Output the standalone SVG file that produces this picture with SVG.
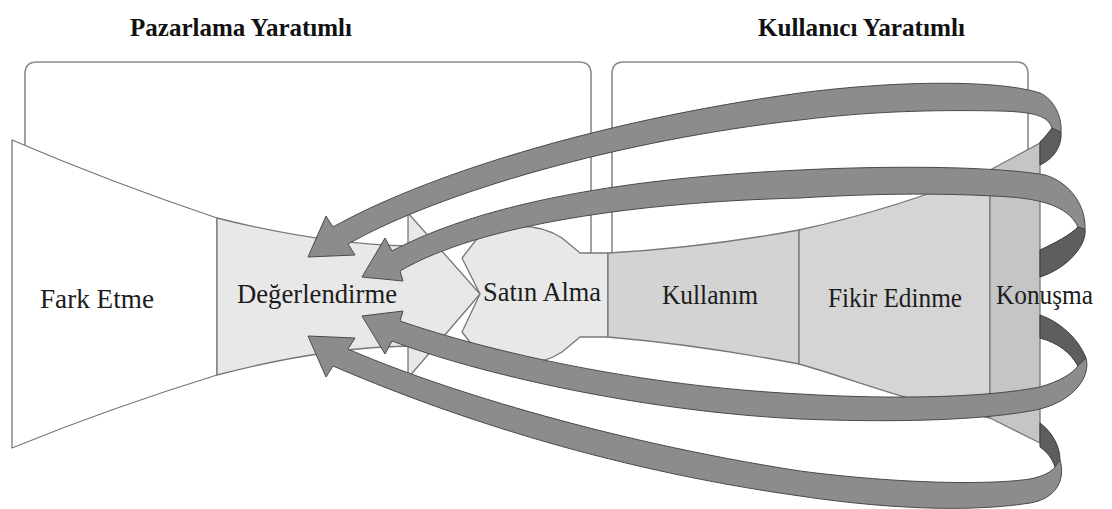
<svg xmlns="http://www.w3.org/2000/svg" width="1112" height="509" viewBox="0 0 1112 509">
<style>
.box{fill:none;stroke:#8a8a8a;stroke-width:1.6}
.reg{stroke:#777;stroke-width:1.3;stroke-linejoin:round}
.lbl{font-family:"Liberation Serif","Times New Roman",serif;font-size:27px;fill:#1c1c1c}
.ttl{font-family:"Liberation Serif","Times New Roman",serif;font-size:26px;font-weight:bold;fill:#111}
.band{fill:#8c8c8c;stroke:#4a4a4a;stroke-width:1;stroke-linejoin:round}
.back{fill:#5e5e5e;stroke:#3a3a3a;stroke-width:1;stroke-linejoin:round}
</style>
<rect width="1112" height="509" fill="#fff"/>
<g id="titles">
<text class="ttl" x="130" y="36" textLength="222" lengthAdjust="spacingAndGlyphs">Pazarlama Yaratımlı</text>
<text class="ttl" x="758" y="36" textLength="207" lengthAdjust="spacingAndGlyphs">Kullanıcı Yaratımlı</text>
</g>
<g id="frames">
<path class="box" d="M25,145 L25,74 Q25,62 37,62 L579,62 Q591,62 591,74 L591,253"/>
<path class="box" d="M612,253 L612,74 Q612,62 624,62 L1016,62 Q1028,62 1028,74 L1028,150"/>
</g>
<g id="fark-etme">
<path class="reg" fill="#ffffff" d="M12,140 Q110,182 217,218 L217,375 Q110,408 12,448 Z" stroke-width="2"/>
<text class="lbl" x="40" y="308" textLength="114" lengthAdjust="spacingAndGlyphs">Fark Etme</text>
</g>
<g id="degerlendirme">
<path class="reg" fill="#e8e8e8" d="M217,218 Q320,244 408,246 L408,213 L480,294 L408,378 L408,346 Q320,348 217,375 Z"/>
</g>
<g id="satin-alma">
<path class="reg" fill="#e8e8e8" d="M480,294 L462,258 L476,240 C498,222 538,222 562,238 L580,253 L608,253 L608,337 L580,337 L562,352 C538,368 498,368 476,350 L462,332 Z"/>
</g>
<g id="kullanim">
<path class="reg" fill="#d3d3d3" d="M608,253 Q700,248 799,230 L799,364 Q700,345 608,337 Z"/>
</g>
<g id="fikir-edinme">
<path class="reg" fill="#d5d5d5" d="M799,230 Q900,208 990,170 L990,418 C900,400 850,378 799,364 Z"/>
</g>
<g id="konusma">
<path class="reg" fill="#c5c5c5" d="M990,170 L1040,143 L1040,443 L990,418 Z"/>
</g>
<g id="connectors">
<path class="back" d="M1052,128 L1061,132 C1062,145 1055,158 1040,165 L1040,142 C1045,137 1049,132 1052,128 Z"/>
<path class="back" d="M1078,227 L1085,229 C1087,245 1068,268 1040,277 L1040,250 C1055,243 1070,235 1078,227 Z"/>
<path class="back" d="M1040,315 C1060,322 1078,338 1086,358 L1078,366 C1070,352 1058,343 1040,338 Z"/>
<path class="back" d="M1040,423 C1052,432 1060,446 1060,460 L1055,467 C1052,458 1047,452 1040,447 Z"/>
<path class="band" d="M308,257 L326,216 L333,227 C420,178 590,122 800,93 C900,80 1000,80 1040,93 C1055,100 1062,118 1061,132 L1052,128 C1048,116 1035,112 1000,111 C950,110 880,110 800,120 C620,140 440,192 348,244 L355,255 Z"/>
<path class="band" d="M362,277 L385,238 L392,251 C460,215 580,180 800,170 C900,165 1000,167 1045,175 C1072,183 1086,208 1085,229 L1078,227 C1070,210 1050,200 1010,197 C950,193 880,193 800,198 C640,202 480,224 400,271 L403,281 Z"/>
<path class="band" d="M362,316 L403,311 L400,321 C490,352 640,386 800,394 C900,400 990,397 1040,387 C1060,381 1072,374 1078,366 L1086,358 C1091,376 1075,400 1040,409 C990,420 900,423 800,419 C640,411 480,374 392,341 L385,354 Z"/>
<path class="band" d="M308,336 L355,338 L348,349 C430,385 600,440 800,471 C900,484 990,485 1030,479 C1045,476 1052,471 1055,467 L1060,460 C1066,481 1055,499 1030,503 C980,511 900,511 800,496 C600,468 440,412 333,366 L326,377 Z"/>
</g>
<g id="labels">
<text class="lbl" x="237" y="303" textLength="160" lengthAdjust="spacingAndGlyphs">Değerlendirme</text>
<text class="lbl" x="483" y="301" textLength="118" lengthAdjust="spacingAndGlyphs">Satın Alma</text>
<text class="lbl" x="662" y="304" textLength="96" lengthAdjust="spacingAndGlyphs">Kullanım</text>
<text class="lbl" x="828" y="307" textLength="134" lengthAdjust="spacingAndGlyphs">Fikir Edinme</text>
<text class="lbl" x="996" y="304" textLength="97" lengthAdjust="spacingAndGlyphs">Konuşma</text>
</g>
</svg>
